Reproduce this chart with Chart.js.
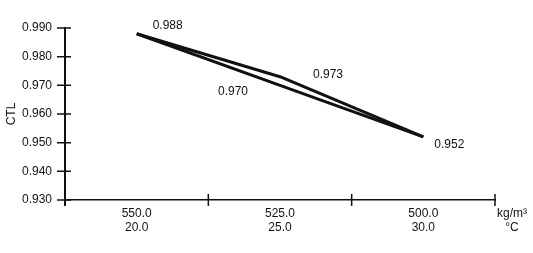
<!DOCTYPE html>
<html>
<head>
<meta charset="utf-8">
<style>
  html, body { margin: 0; padding: 0; background: #fff; }
  #wrap { width: 533px; height: 253px; }
</style>
<script src="https://cdn.jsdelivr.net/npm/chart.js@4.4.1/dist/chart.umd.min.js"></script>
</head>
<body>
<div id="wrap"><canvas id="ctlChart" width="533" height="253"></canvas></div>
<script>
// --- data ---
const densityLabels = ['550.0', '525.0', '500.0'];
const tempLabels = ['20.0', '25.0', '30.0'];
const upperCurve = [0.988, 0.973, 0.952];
const lowerCurve = [0.988, 0.970, 0.952];
const yTickValues = [0.930, 0.940, 0.950, 0.960, 0.970, 0.980, 0.990];
const unitLabels = ['kg/m³', '°C'];

const FONT = "Arial, 'Liberation Sans', Helvetica, sans-serif";
const INK = '#111';

// crossing tick marks, axis tail and the unit text at the right end
const axisDecor = {
    id: 'axisDecor',
    afterDraw(chart) {
        const ctx = chart.ctx, xs = chart.scales.x, ys = chart.scales.y;
        const ax = ys.right, ay = xs.top;
        ctx.save();
        ctx.strokeStyle = INK;
        ctx.lineWidth = 1.5;
        ctx.beginPath();
        ys.ticks.forEach((t, i) => {
            const y = ys.getPixelForTick(i);
            ctx.moveTo(ax - 8, y); ctx.lineTo(ax + 6, y);
        });
        for (let i = 0; i < xs.ticks.length; i++) {
            const x = xs.getPixelForValue(i + 0.5);
            ctx.moveTo(x, ay - 6); ctx.lineTo(x, ay + 6);
        }
        ctx.stroke();
        // y axis runs a little past the x axis
        ctx.lineWidth = 2;
        ctx.beginPath();
        ctx.moveTo(ax, ay); ctx.lineTo(ax, ay + 6);
        ctx.stroke();

        ctx.fillStyle = INK;
        ctx.font = '12px ' + FONT;
        ctx.textAlign = 'center';
        ctx.textBaseline = 'middle';
        ctx.fillText(unitLabels[0], xs.right + 17, ay + 14);
        ctx.fillText(unitLabels[1], xs.right + 17, ay + 28);
        ctx.restore();
    }
};

// value labels placed beside the curves
const valueTags = {
    id: 'valueTags',
    afterDatasetsDraw(chart) {
        const spots = [
            { ds: 0, i: 0, dx: 31, dy: -8 },
            { ds: 0, i: 1, dx: 48, dy: -2 },
            { ds: 1, i: 1, dx: -47, dy: 6 },
            { ds: 0, i: 2, dx: 26, dy: 8 }
        ];
        const ctx = chart.ctx;
        ctx.save();
        ctx.fillStyle = INK;
        ctx.font = '12px ' + FONT;
        ctx.textAlign = 'center';
        ctx.textBaseline = 'middle';
        spots.forEach(s => {
            const pt = chart.getDatasetMeta(s.ds).data[s.i];
            const v = chart.data.datasets[s.ds].data[s.i];
            ctx.fillText(v.toFixed(3), pt.x + s.dx, pt.y + s.dy);
        });
        ctx.restore();
    }
};

new Chart(document.getElementById('ctlChart').getContext('2d'), {
    type: 'line',
    data: {
        labels: densityLabels.map((d, i) => [d, tempLabels[i]]),
        datasets: [
            { data: upperCurve, borderColor: INK, borderWidth: 3, pointRadius: 0, tension: 0, borderJoinStyle: 'round' },
            { data: lowerCurve, borderColor: INK, borderWidth: 3, pointRadius: 0, tension: 0, borderJoinStyle: 'round' }
        ]
    },
    options: {
        responsive: false,
        animation: false,
        events: [],
        layout: { padding: { top: 28, right: 38, left: 0, bottom: 0 } },
        plugins: { legend: { display: false }, tooltip: { enabled: false } },
        scales: {
            x: {
                offset: true,
                grid: { display: false, offset: true, drawTicks: false },
                border: { display: true, color: INK, width: 1.5 },
                ticks: { color: INK, padding: 7, maxRotation: 0, font: { family: FONT, size: 12, lineHeight: 1.17 } },
                afterFit: s => { s.height = 53; }
            },
            y: {
                min: 0.93, max: 0.99,
                afterBuildTicks: s => { s.ticks = yTickValues.map(v => ({ value: v })); },
                grid: { display: false, drawTicks: false },
                border: { display: true, color: INK, width: 2 },
                ticks: { color: INK, padding: 13, callback: v => v.toFixed(3), font: { family: FONT, size: 12 } },
                title: { display: true, text: 'CTL', color: INK, font: { family: FONT, size: 12 } },
                afterFit: s => { s.width = 65; }
            }
        }
    },
    plugins: [axisDecor, valueTags]
});
</script>
</body>
</html>
